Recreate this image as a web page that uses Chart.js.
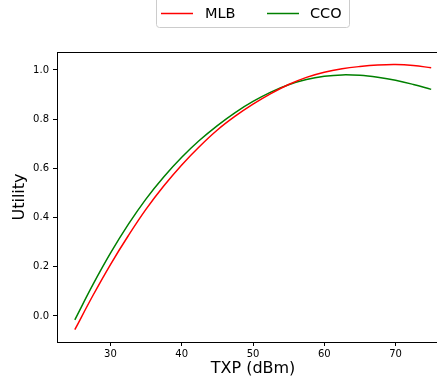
<!DOCTYPE html>
<html>
<head>
<meta charset="utf-8">
<script src="https://cdn.jsdelivr.net/npm/chart.js@4"></script>
<style>
  body { margin: 0; overflow: hidden; background: #fff; }
  #wrap { width: 437px; height: 381px; overflow: hidden; }
</style>
</head>
<body>
<div id="wrap"><canvas id="myChart" width="449" height="381"></canvas></div>
<script>
const txp = [25, 27.5, 30, 32.5, 35, 37.5, 40, 42.5, 45, 47.5, 50, 52.5, 55, 57.5, 60, 62.5, 65, 67.5, 70, 72.5, 75];
const mlb = [-0.056, 0.081, 0.209, 0.326, 0.434, 0.529, 0.614, 0.689, 0.756, 0.812, 0.861, 0.904, 0.941, 0.970, 0.991, 1.005, 1.014, 1.020, 1.022, 1.018, 1.009];
const cco = [-0.016, 0.125, 0.255, 0.372, 0.476, 0.566, 0.645, 0.714, 0.774, 0.827, 0.872, 0.910, 0.940, 0.961, 0.974, 0.980, 0.978, 0.970, 0.958, 0.941, 0.921];
const xTicks = [30, 40, 50, 60, 70];
const yTicks = [0.0, 0.2, 0.4, 0.6, 0.8, 1.0];

const font = "DejaVu Sans";

// legend box and top spine, drawn by hand like matplotlib does
const frame = {
  id: "frame",
  afterDraw(chart) {
    const c = chart.ctx;
    const a = chart.chartArea;
    c.save();
    c.strokeStyle = "#000";
    c.lineWidth = 1;
    c.beginPath();
    c.moveTo(a.left, a.top + 0.5);
    c.lineTo(a.right, a.top + 0.5);
    c.stroke();

    // legend
    c.fillStyle = "rgba(255,255,255,0.8)";
    c.strokeStyle = "#cccccc";
    c.beginPath();
    c.roundRect(156.5, -6, 193, 33.5, 3);
    c.fill();
    c.stroke();
    const items = [[161, 205], [267, 310]];
    chart.data.datasets.forEach((ds, i) => {
      const [lx, tx] = items[i];
      c.strokeStyle = ds.borderColor;
      c.lineWidth = 1.5;
      c.beginPath();
      c.moveTo(lx, 13.5);
      c.lineTo(lx + 32, 13.5);
      c.stroke();
      c.fillStyle = "#000";
      c.font = "14.5px '" + font + "'";
      c.textBaseline = "middle";
      c.textAlign = "left";
      c.fillText(ds.label, tx, 14);
    });
    c.restore();
  }
};

const ctx = document.getElementById("myChart");

new Chart(ctx, {
  type: "line",
  data: {
    datasets: [
      {
        label: "MLB",
        data: txp.map((x, i) => ({ x: x, y: mlb[i] })),
        borderColor: "#ff0000",
        borderWidth: 1.5,
        pointRadius: 0,
        tension: 0.4,
      },
      {
        label: "CCO",
        data: txp.map((x, i) => ({ x: x, y: cco[i] })),
        borderColor: "#008000",
        borderWidth: 1.5,
        pointRadius: 0,
        tension: 0.4,
      },
    ],
  },
  options: {
    responsive: false,
    animation: false,
    layout: { padding: { top: 52, left: 0, right: 0, bottom: 0 } },
    scales: {
      x: {
        type: "linear",
        min: 22.5,
        max: 77.5,
        afterBuildTicks: (s) => { s.ticks = xTicks.map((v) => ({ value: v })); },
        afterFit: (s) => { s.height = 39; },
        grid: { drawOnChartArea: false, tickLength: 4, tickColor: "#000" },
        border: { color: "#000", width: 1 },
        ticks: { color: "#000", font: { family: font, size: 10 }, padding: 2, maxRotation: 0 },
        title: { display: true, text: "TXP (dBm)", color: "#000", font: { family: font, size: 16 }, padding: { top: 0, bottom: 2.4 } },
      },
      y: {
        min: -0.106,
        max: 1.073,
        afterBuildTicks: (s) => { s.ticks = yTicks.map((v) => ({ value: v })); },
        afterFit: (s) => { s.width = 57; },
        grid: { drawOnChartArea: false, tickLength: 4, tickColor: "#000" },
        border: { color: "#000", width: 1 },
        ticks: { color: "#000", font: { family: font, size: 10 }, padding: 4, callback: (v) => v.toFixed(1) },
        title: { display: true, text: "Utility", color: "#000", font: { family: font, size: 16 }, padding: { top: 10.4, bottom: 0 } },
      },
    },
    plugins: {
      legend: { display: false },
      tooltip: { enabled: false },
    },
  },
  plugins: [frame],
});
</script>
</body>
</html>
